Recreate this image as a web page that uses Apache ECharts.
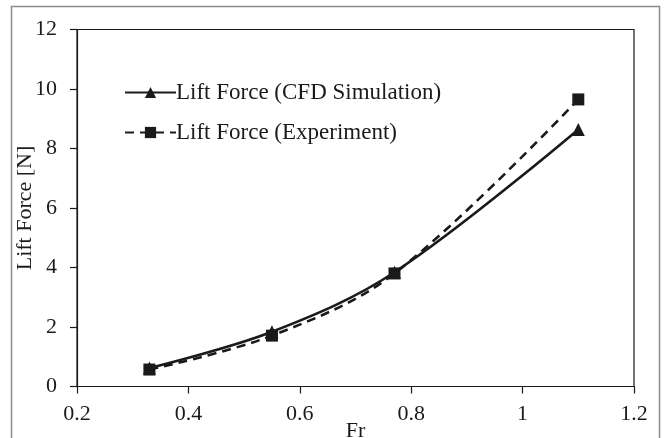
<!DOCTYPE html>
<html>
<head>
<meta charset="utf-8">
<script src="https://cdn.jsdelivr.net/npm/echarts@6/dist/echarts.min.js"></script>
<style>
  html, body { margin: 0; padding: 0; background: #fff; }
  #chart { width: 665px; height: 438px; }
</style>
</head>
<body>
<div id="chart"></div>
<script>
// Froude number and lift force readings
const froude = [0.33, 0.55, 0.77, 1.1];
const liftCfd = [0.62, 1.84, 3.84, 8.64];
const liftExperiment = [0.57, 1.71, 3.80, 9.65];
const xTicks = [0.2, 0.4, 0.6, 0.8, 1, 1.2];
const yTicks = [0, 2, 4, 6, 8, 10, 12];

const FONT = 'Liberation Serif';
const INK = '#1a1a1a';
const FS = 22;

const pairs = (xs, ys) => xs.map((x, i) => [x, ys[i]]);

const chart = echarts.init(document.getElementById('chart'), null, { renderer: 'canvas' });

chart.setOption({
  backgroundColor: '#fff',
  animation: false,
  textStyle: { fontFamily: FONT, color: INK },
  graphic: [{
    type: 'rect',
    shape: { x: 11.5, y: 6.5, width: 648, height: 460 },
    style: { fill: 'none', stroke: '#8a8a8a', lineWidth: 1.5 },
    silent: true
  }],
  grid: {
    left: 77, right: 31, top: 29.5, bottom: 51.5,
    outerBoundsMode: 'none',
    containLabel: false,
    show: true, borderColor: INK, borderWidth: 1.2, backgroundColor: 'transparent'
  },
  legend: {
    orient: 'vertical',
    left: 119,
    top: 76,
    itemWidth: 51,
    itemHeight: 14,
    itemGap: 17,
    textStyle: { fontFamily: FONT, fontSize: 23, color: INK, padding: [0, 0, 0, -5] },
    data: ['Lift Force (CFD Simulation)', 'Lift Force (Experiment)']
  },
  xAxis: {
    type: 'value',
    min: xTicks[0],
    max: xTicks[xTicks.length - 1],
    interval: 0.2,
    name: 'Fr',
    nameLocation: 'middle',
    nameGap: 34,
    nameMoveOverlap: false,
    nameTextStyle: { fontFamily: FONT, fontSize: FS, color: INK },
    axisLine: { show: true, onZero: false, lineStyle: { color: INK, width: 1.2 } },
    axisTick: { show: true, inside: false, length: 7, lineStyle: { color: INK, width: 1.2 } },
    axisLabel: { fontFamily: FONT, fontSize: FS, color: INK, margin: 17, formatter: v => String(parseFloat(v.toFixed(1))) },
    splitLine: { show: false }
  },
  yAxis: {
    type: 'value',
    min: yTicks[0],
    max: yTicks[yTicks.length - 1],
    interval: 2,
    name: 'Lift Force [N]',
    nameLocation: 'middle',
    nameGap: 41,
    nameMoveOverlap: false,
    nameRotate: 90,
    nameTextStyle: { fontFamily: FONT, fontSize: FS, color: INK },
    axisLine: { show: true, lineStyle: { color: INK, width: 1.2 } },
    axisTick: { show: true, inside: false, length: 7, lineStyle: { color: INK, width: 1.2 } },
    axisLabel: { fontFamily: FONT, fontSize: FS, color: INK, margin: 20 },
    splitLine: { show: false }
  },
  series: [
    {
      name: 'Lift Force (CFD Simulation)',
      type: 'line',
      data: pairs(froude, liftCfd),
      smooth: 0.35,
      symbol: 'triangle',
      symbolSize: 13,
      itemStyle: { color: INK },
      lineStyle: { color: INK, width: 2.6, type: 'solid' },
      z: 3
    },
    {
      name: 'Lift Force (Experiment)',
      type: 'line',
      data: pairs(froude, liftExperiment),
      smooth: 0.35,
      symbol: 'rect',
      symbolSize: 12,
      itemStyle: { color: INK },
      lineStyle: { color: INK, width: 2.6, type: [9, 6] },
      z: 2
    }
  ]
});
</script>
</body>
</html>
